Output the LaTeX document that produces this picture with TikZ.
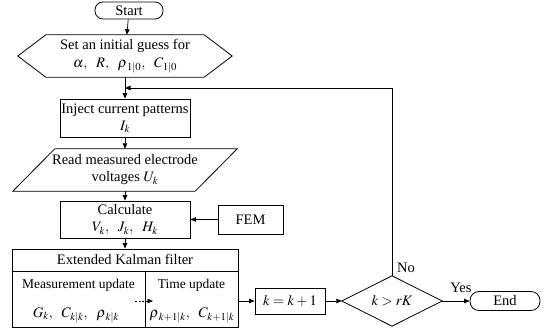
\documentclass[tikz,border=0pt]{standalone}
\usepackage{mathptmx}
\usepackage{fontspec}
\setmainfont{Liberation Serif}
\usetikzlibrary{arrows.meta,calc}
\begin{document}
\begin{tikzpicture}[x=1pt,y=-1pt, font=\fontsize{14.5}{17}\selectfont,
  box/.style={draw, line width=0.8pt, align=center, inner sep=0pt},
  txt/.style={align=center, inner sep=0pt},
  arr/.style={-{Triangle[length=5.5pt,width=4.5pt]}, line width=0.7pt},
  ln/.style={line width=0.8pt}]
\useasboundingbox (0,0) rectangle (550,329);

\node[box, rounded corners=8pt, minimum width=68, minimum height=17] (start) at (129,10.5) {Start};

\node[txt, minimum width=214, minimum height=42] (hex) at (125,56) {Set an initial guess for\\[1pt] $\alpha,\ \ R,\ \ \rho_{\mkern2mu 1|0},\ \ C_{1|0}$};
\draw[ln] (hex.west) -- ($(hex.north west)+(28,0)$) -- ($(hex.north east)+(-28,0)$) -- (hex.east) -- ($(hex.south east)+(-28,0)$) -- ($(hex.south west)+(28,0)$) -- cycle;

\node[box, minimum width=130, minimum height=38] (inj) at (125,118) {Inject current patterns\\ $I_k$};

\node[txt, minimum width=224, minimum height=42] (par) at (125,170) {Read measured electrode\\ voltages $U_k$};
\draw[ln] (par.south west) -- ($(par.north west)+(42,0)$) -- (par.north east) -- ($(par.south east)+(-42,0)$) -- cycle;

\node[box, minimum width=130, minimum height=37] (calc) at (125,219.5) {Calculate\\ $V_k,\ \ J_k,\ \ H_k$};

\node[box, minimum width=65, minimum height=29] (fem) at (250.5,219.5) {FEM};

\node[box, minimum width=226, minimum height=78] (ekf) at (125,288) {};
\node[txt] (ekft) at (125,259.5) {Extended Kalman filter};
\coordinate (l1) at (12,271);
\coordinate (l2) at (238,271);
\draw[ln] (l1) -- (l2);
\coordinate (d1) at (145,271);
\draw[ln] (d1) -- (d1 |- ekf.south);
\node[txt, font=\fontsize{13.5}{15}\selectfont] (mu) at (78.5,285) {Measurement update};
\node[txt, font=\fontsize{13.5}{15}\selectfont] (tu) at (191.5,285) {Time update};
\node[txt] (mm) at (76,315) {$G_k,\ \ C_{k|k},\ \ \rho_{\mkern2mu k|k}$};
\node[txt] (tm) at (192,315) {$\rho_{\mkern2mu k+1|k},\ \ C_{k+1|k}$};
\coordinate (da) at (135,301);
\coordinate (db) at (153,301);
\draw[arr, dashed, dash pattern=on 2pt off 1.5pt] (da) -- (db);

\node[box, minimum width=70, minimum height=26] (kb) at (290,301) {$k=k+1$};

\node[txt, minimum width=100, minimum height=50] (dia) at (392,301) {$k>rK$};
\draw[ln] (dia.west) -- (dia.north) -- (dia.east) -- (dia.south) -- cycle;

\node[box, rounded corners=9pt, minimum width=70, minimum height=19] (end) at (505,301) {End};

\coordinate (fb) at (125,88);

\draw[arr] (start) -- (hex);
\draw[arr] (hex) -- (inj);
\draw[arr] (dia.north) |- (fb);
\draw[arr] (inj) -- (par);
\draw[arr] (par) -- (calc);
\draw[arr] (calc) -- (ekf);
\draw[arr] (fem) -- (calc);
\draw[arr] (kb.west -| ekf.east) -- (kb.west);
\draw[arr] (kb) -- (dia.west);
\draw[arr] (dia.east) -- (end);

\node[txt] (no) at (406,268) {No};
\node[txt] (yes) at (461,288) {Yes};
\end{tikzpicture}
\end{document}
